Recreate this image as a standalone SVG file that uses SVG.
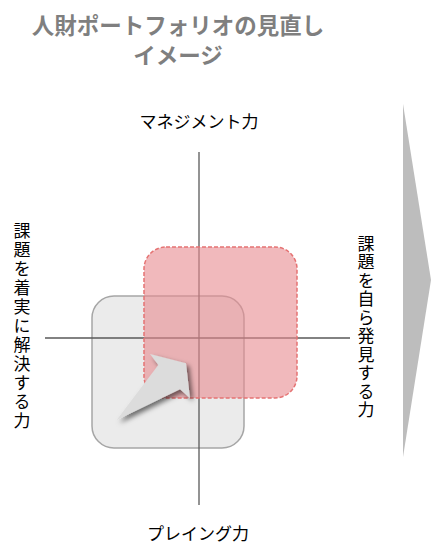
<svg xmlns="http://www.w3.org/2000/svg" width="431" height="546" viewBox="0 0 431 546">
<style>
.t{font-family:"Noto Sans CJK JP","Noto Sans",sans-serif;fill:#000;font-size:17px}
.title{font-family:"Noto Sans CJK JP","Noto Sans",sans-serif;fill:#7f7f7f;font-size:22.5px;font-weight:bold;text-anchor:middle}
.v{writing-mode:vertical-rl;glyph-orientation-vertical:0}
.axis{stroke:#595959;stroke-width:1.3}
</style>
<defs>
<filter id="sh" x="-50%" y="-50%" width="200%" height="200%">
<feDropShadow dx="3" dy="3" stdDeviation="2.5" flood-color="#000" flood-opacity="0.55"/>
</filter>
</defs>
<g id="title">
<text class="title" x="178" y="34">人財ポートフォリオの見直し</text>
<text class="title" x="178" y="64">イメージ</text>
</g>
<g id="bigArrow"><polygon points="403,104 431,280 403,457" fill="#bdbdbd"/></g>
<g id="current"><rect x="92" y="296" width="152" height="152" rx="22" fill="#ebebeb" stroke="#a6a6a6" stroke-width="1.5"/></g>
<g id="connectors">
<line class="axis" x1="199" y1="152" x2="199" y2="505"/>
<line class="axis" x1="45" y1="338" x2="350" y2="338"/>
</g>
<g id="future"><rect x="144" y="247" width="153" height="151" rx="22" fill="#e78a8f" fill-opacity="0.6" stroke="#e57373" stroke-width="1.5" stroke-dasharray="4,2"/></g>
<g id="shiftArrow"><polygon points="116.7,420 158.3,365 150,354 186,363.3 190,398.3 180,389.3" fill="#dcdcdc" filter="url(#sh)"/></g>
<g id="labels">
<text class="t" x="199" y="128" text-anchor="middle">マネジメント力</text>
<text class="t" x="198" y="540" text-anchor="middle">プレイング力</text>
<text class="t v" x="22" y="222" letter-spacing="2">課題を着実に解決する力</text>
<text class="t v" x="366" y="235" letter-spacing="1.5">課題を自ら発見する力</text>
</g>
</svg>
